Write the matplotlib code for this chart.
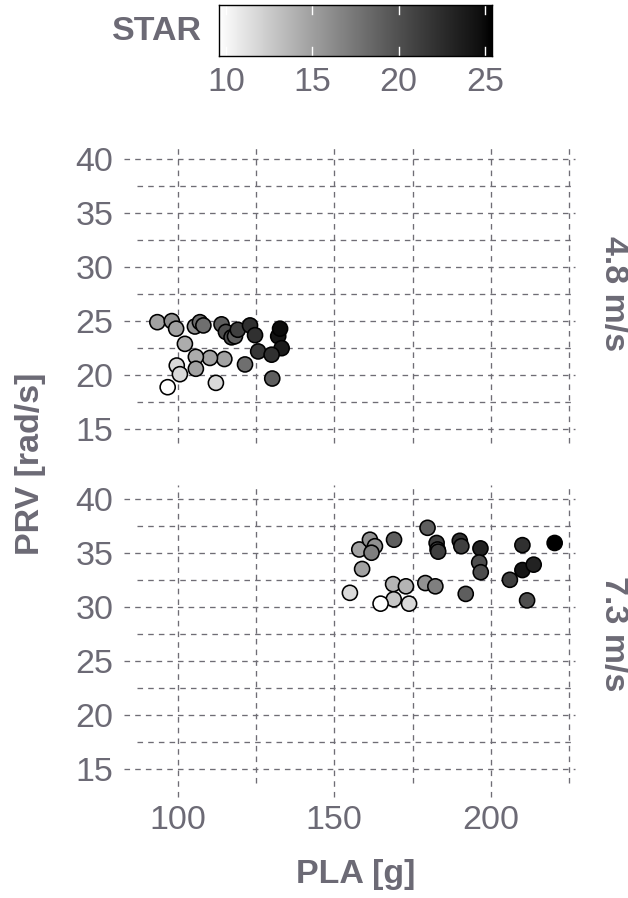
import numpy as np
import matplotlib
matplotlib.use("Agg")
import matplotlib.pyplot as plt
from matplotlib.colors import ListedColormap, Normalize

# ---- data -------------------------------------------------------------
# wind speed 4.8 m/s
pla_48 = [93.5, 98.1, 99.5, 102.3, 105.5, 107.1, 108.2, 114.0, 115.4, 117.2,
          118.3, 119.2, 123.1, 124.7, 132.1, 132.7, 133.2, 125.7, 130.0, 121.5,
          114.9, 110.3, 105.8, 105.8, 99.7, 100.7, 96.8, 112.2, 130.2]
prv_48 = [24.9, 25.0, 24.3, 22.9, 24.5, 24.9, 24.6, 24.7, 24.0, 23.5,
          23.6, 24.2, 24.6, 23.7, 23.6, 24.3, 22.5, 22.2, 21.9, 21.0,
          21.5, 21.6, 21.7, 20.6, 20.9, 20.1, 18.9, 19.3, 19.7]
star_48 = [15, 16, 15, 14.5, 16, 18, 18, 19, 20, 20,
           19, 21, 22, 22, 24, 24.5, 23.5, 21.5, 22, 18,
           15, 15, 14.5, 15, 12, 12, 10, 12, 19]

# wind speed 7.3 m/s
pla_73 = [155.0, 158.0, 161.4, 163.0, 161.9, 158.9, 169.1, 168.8, 172.9, 169.0,
          164.8, 173.9, 179.8, 182.7, 183.0, 183.2, 179.1, 182.3, 190.1, 190.6,
          192.0, 196.7, 196.3, 196.8, 206.1, 210.1, 210.1, 213.7, 211.6, 220.4]
prv_73 = [31.3, 35.3, 36.2, 35.6, 35.0, 33.5, 36.2, 32.1, 31.9, 30.7,
          30.3, 30.3, 37.3, 35.9, 35.3, 35.1, 32.2, 31.9, 36.1, 35.6,
          31.2, 35.4, 34.1, 33.2, 32.5, 35.7, 33.4, 33.9, 30.6, 35.9]
star_73 = [12, 15, 16, 16, 17, 15, 19, 14, 14, 13,
           10, 12, 19, 21, 20, 21, 16, 17, 22, 21,
           19, 23, 20, 20, 21, 22, 24, 23, 20, 25]

panel_labels = ["4.8 m/s", "7.3 m/s"]
y_major = [15, 20, 25, 30, 35, 40]
y_minor = [17.5, 22.5, 27.5, 32.5, 37.5]
x_major = [100, 150, 200]
x_minor = [125, 175, 225]
star_ticks = [10, 15, 20, 25]

# ---- style ------------------------------------------------------------
TXT = "#6C6A75"
GRID = "#6F6D75"
FS = 24.5
plt.rcParams["font.family"] = ["Liberation Sans", "DejaVu Sans"]
plt.rcParams["lines.scale_dashes"] = False
DASH = (0, (4.0, 3.7))


def grey_lab(t):
    """White-to-black ramp interpolated in CIELAB lightness."""
    L = 100.0 * (1.0 - t)
    fy = (L + 16.0) / 116.0
    Y = np.where(L > 8.0, fy ** 3, L / 903.3)
    v = np.where(Y <= 0.0031308, 12.92 * Y, 1.055 * Y ** (1 / 2.4) - 0.055)
    return np.clip(v, 0, 1)


ramp = grey_lab(np.linspace(0, 1, 256))
cmap = ListedColormap(np.column_stack([ramp, ramp, ramp]))
norm = Normalize(vmin=10, vmax=25)

W, H = 628, 898
fig = plt.figure(figsize=(W / 100, H / 100), dpi=100)


def frac(l, t, r, b):
    return [l / W, 1 - b / H, (r - l) / W, (b - t) / H]


ax_top = fig.add_axes(frac(137, 145, 575, 443))
ax_bot = fig.add_axes(frac(137, 485, 575, 783))

xlim = (87.0, 226.9)
ylim = (13.75, 41.25)

for ax, pla, prv, star, is_bottom in [
    (ax_top, pla_48, prv_48, star_48, False),
    (ax_bot, pla_73, prv_73, star_73, True),
]:
    ax.set_xlim(*xlim)
    ax.set_ylim(*ylim)
    for s in ax.spines.values():
        s.set_visible(False)
    ax.set_facecolor("white")

    # dashed grid; major lines run past the panel edge to act as ticks
    ext_x = 13 / 438
    ext_y = 14 / 298
    ytr = ax.get_yaxis_transform()
    xtr = ax.get_xaxis_transform()
    for y in y_major:
        ax.plot([-ext_x, 1], [y, y], transform=ytr, clip_on=False,
                color=GRID, lw=0.95, ls=DASH, zorder=1)
    for y in y_minor:
        ax.plot([0, 1], [y, y], transform=ytr, clip_on=False,
                color=GRID, lw=0.95, ls=DASH, zorder=1)
    for x in x_major:
        lo = -ext_y if is_bottom else 0
        ax.plot([x, x], [lo, 1], transform=xtr, clip_on=False,
                color=GRID, lw=0.95, ls=DASH, zorder=1)
    for x in x_minor:
        ax.plot([x, x], [0, 1], transform=xtr, clip_on=False,
                color=GRID, lw=0.95, ls=DASH, zorder=1)

    ax.scatter(pla, prv, c=star, cmap=cmap, norm=norm, s=118,
               edgecolors="black", linewidths=1.15, zorder=3)

    ax.set_yticks(y_major)
    ax.set_yticklabels([str(v) for v in y_major])
    ax.set_xticks(x_major)
    if is_bottom:
        ax.set_xticklabels([str(v) for v in x_major])
    else:
        ax.set_xticklabels([])
    ax.tick_params(axis="both", length=0, labelsize=FS, labelcolor=TXT)
    ax.tick_params(axis="y", pad=17)
    ax.tick_params(axis="x", pad=16)

# facet strip labels
for ax, lab in zip([ax_top, ax_bot], panel_labels):
    bb = ax.get_position()
    fig.text(613 / W, bb.y0 + bb.height / 2, lab, rotation=-90,
             ha="center", va="center", fontsize=FS, fontweight="bold",
             color=TXT)

# axis titles
fig.text(30 / W, 1 - 464 / H, "PRV [rad/s]", rotation=90, ha="center",
         va="center", fontsize=FS, fontweight="bold", color=TXT)
fig.text(356 / W, 1 - 875 / H, "PLA [g]", ha="center", va="center",
         fontsize=FS, fontweight="bold", color=TXT)

# colour bar legend
cax = fig.add_axes(frac(219, 5, 492, 56))
lo_e = 10 - 0.5 * 15 / 19
hi_e = 25 + 0.5 * 15 / 19
grad = np.linspace(10, 25, 256)[None, :]
cax.imshow(grad, cmap=cmap, norm=norm, aspect="auto",
           extent=[lo_e, hi_e, 0, 1], interpolation="bilinear")
cax.set_xlim(lo_e, hi_e)
cax.set_ylim(0, 1)
cax.set_yticks([])
for s in cax.spines.values():
    s.set_color("black")
    s.set_linewidth(1.0)
for t in star_ticks:
    cax.plot([t, t], [0, 0.18], color="white", lw=1.0)
    cax.plot([t, t], [0.82, 1], color="white", lw=1.0)
cax.set_xticks(star_ticks)
cax.set_xticklabels([str(t) for t in star_ticks])
cax.tick_params(axis="x", length=0, pad=8, labelsize=FS, labelcolor=TXT)
fig.text(202 / W, 1 - 31 / H, "STAR", ha="right", va="center",
         fontsize=FS, fontweight="bold", color=TXT)

fig.savefig("out.png", dpi=100, facecolor="white")
